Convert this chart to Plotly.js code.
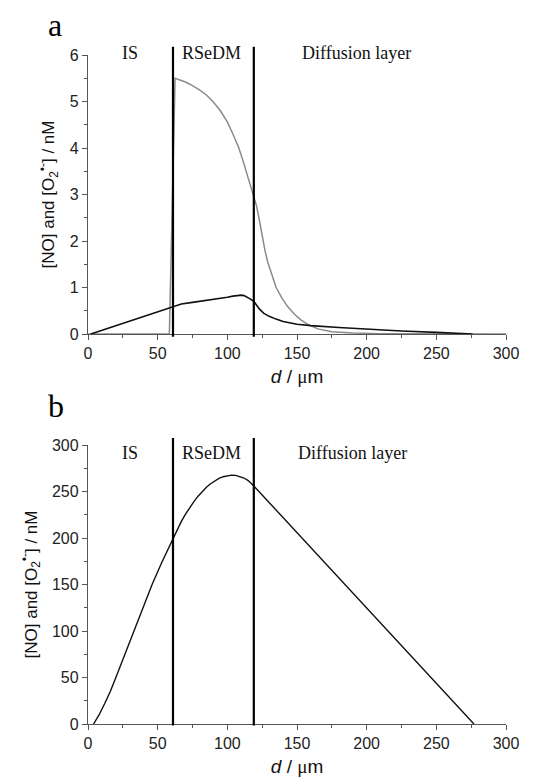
<!DOCTYPE html>
<html>
<head>
<meta charset="utf-8">
<script src="https://cdn.plot.ly/plotly-3.0.1.min.js"></script>
<style>html,body{margin:0;padding:0;background:#fff;}#chart{width:533px;height:781px;}</style>
</head>
<body>
<div id="chart"></div>
<script>
// Panel a: NO (black) and superoxide (grey)
const aNoX = [2, 61, 67, 75, 85, 95, 100, 104, 107, 110, 112, 114, 116, 119, 121, 123, 126, 130, 135, 140, 150, 160, 180, 200, 225, 250, 276];
const aNoY = [0, 0.59, 0.645, 0.68, 0.72, 0.76, 0.79, 0.815, 0.83, 0.835, 0.825, 0.80, 0.76, 0.70, 0.62, 0.54, 0.45, 0.38, 0.32, 0.27, 0.21, 0.18, 0.14, 0.10, 0.065, 0.035, 0];
const aO2X = [0, 58.4, 62.5, 66, 70, 75, 80, 85, 90, 95, 100, 104, 108, 111, 114, 117, 119, 121, 123, 125, 127, 129, 132, 135, 139, 143, 148, 153, 158, 165, 175, 190, 210, 240, 300];
const aO2Y = [0, 0, 5.5, 5.47, 5.42, 5.34, 5.25, 5.14, 4.99, 4.80, 4.56, 4.30, 4.02, 3.75, 3.45, 3.20, 3.00, 2.75, 2.45, 2.10, 1.80, 1.55, 1.25, 1.00, 0.78, 0.60, 0.43, 0.30, 0.20, 0.11, 0.05, 0.02, 0.008, 0.002, 0];
// Panel b
const bX = [4, 8, 12, 16, 20, 26, 33, 40, 46, 53, 61, 64, 67, 70, 73, 76, 79, 82, 85, 88, 91, 94, 97, 100, 103, 106, 109, 112, 115, 119, 277];
const bY = [0, 10, 22, 35, 50, 73, 100, 127, 150, 174, 200, 209.3, 217.8, 225.6, 232.8, 239.2, 245, 250, 254.5, 258.3, 261.5, 264, 265.9, 267.1, 267.6, 267.3, 266.3, 264.5, 261.8, 256, 0];
// Layer boundaries (µm) and labels
const boundaries = [61, 119];
const regionNames = ["IS", "RSeDM", "Diffusion layer"];
const regionXa = [30, 88.5, 193];
const regionXb = [30, 88.5, 190];
const panelLabels = ["a", "b"];

const tickFont = {family: "Liberation Sans, Arial, sans-serif", size: 16, color: "#222"};
const serif = "Liberation Serif, Times New Roman, serif";
const ytitle = "[NO] and [O<sub>2</sub><sup>•-</sup>] / nM";
const xtitle = "<i>d</i> / <span style=\"font-family:'Liberation Serif'\">μ</span>m";

function xAxis(anchor) {
  return {
    domain: [88/533, 506/533], anchor: anchor, range: [0, 300], dtick: 50,
    showline: true, linecolor: "#555", linewidth: 1.2, showgrid: false, zeroline: false,
    ticks: "outside", ticklen: 5, tickcolor: "#555", tickwidth: 1, tickfont: tickFont,
    minor: {dtick: 25, ticks: "outside", ticklen: 3, tickcolor: "#555", showgrid: false},
    title: {text: xtitle, font: {family: "Liberation Sans, Arial, sans-serif", size: 19, color: "#111"}, standoff: 8}
  };
}
function yAxis(anchor, domain, range, dtick, minorDtick) {
  return {
    domain: domain, anchor: anchor, range: range, dtick: dtick,
    showline: true, linecolor: "#555", linewidth: 1.2, showgrid: false, zeroline: false,
    ticks: "outside", ticklen: 5, tickcolor: "#555", tickwidth: 1, tickfont: tickFont,
    minor: {dtick: minorDtick, ticks: "outside", ticklen: 3, tickcolor: "#555", showgrid: false},
    title: {text: ytitle, font: {family: "Liberation Sans, Arial, sans-serif", size: 17, color: "#111"}, standoff: 10}
  };
}

const traces = [
  {x: aO2X, y: aO2Y, xaxis: "x", yaxis: "y", mode: "lines", line: {color: "#8a8a8a", width: 1.5}},
  {x: aNoX, y: aNoY, xaxis: "x", yaxis: "y", mode: "lines", line: {color: "#111", width: 1.6}},
  {x: bX, y: bY, xaxis: "x2", yaxis: "y2", mode: "lines", line: {color: "#111", width: 1.4}}
];

const shapes = [];
boundaries.forEach(b => {
  shapes.push({type: "line", xref: "x", yref: "y domain", x0: b, x1: b, y0: -0.01, y1: 1.03, line: {color: "#000", width: 2.2}});
  shapes.push({type: "line", xref: "x2", yref: "y2 domain", x0: b, x1: b, y0: -0.005, y1: 1.025, line: {color: "#000", width: 2.2}});
});

const annotations = [];
regionNames.forEach((n, i) => {
  annotations.push({text: n, xref: "x", yref: "y domain", x: regionXa[i], y: 1.007, showarrow: false, xanchor: "center", yanchor: "middle", font: {family: serif, size: 18, color: "#111"}});
  annotations.push({text: n, xref: "x2", yref: "y2 domain", x: regionXb[i], y: 0.97, showarrow: false, xanchor: "center", yanchor: "middle", font: {family: serif, size: 18, color: "#111"}});
});
annotations.push({text: panelLabels[0], xref: "paper", yref: "paper", x: 46/533, y: 1 - 25/781, xanchor: "left", yanchor: "middle", showarrow: false, font: {family: serif, size: 32, color: "#000"}});
annotations.push({text: panelLabels[1], xref: "paper", yref: "paper", x: 46/533, y: 1 - 406/781, xanchor: "left", yanchor: "middle", showarrow: false, font: {family: serif, size: 32, color: "#000"}});

const layout = {
  width: 533, height: 781,
  margin: {l: 0, r: 0, t: 0, b: 0},
  paper_bgcolor: "#fff", plot_bgcolor: "#fff",
  showlegend: false,
  xaxis: xAxis("y"),
  yaxis: yAxis("x", [1 - 334/781, 1 - 55/781], [0, 6], 1, 0.5),
  xaxis2: xAxis("y2"),
  yaxis2: yAxis("x2", [1 - 724/781, 1 - 445/781], [0, 300], 50, 25),
  shapes: shapes,
  annotations: annotations
};

Plotly.newPlot("chart", traces, layout, {staticPlot: true, displayModeBar: false});
</script>
</body>
</html>
